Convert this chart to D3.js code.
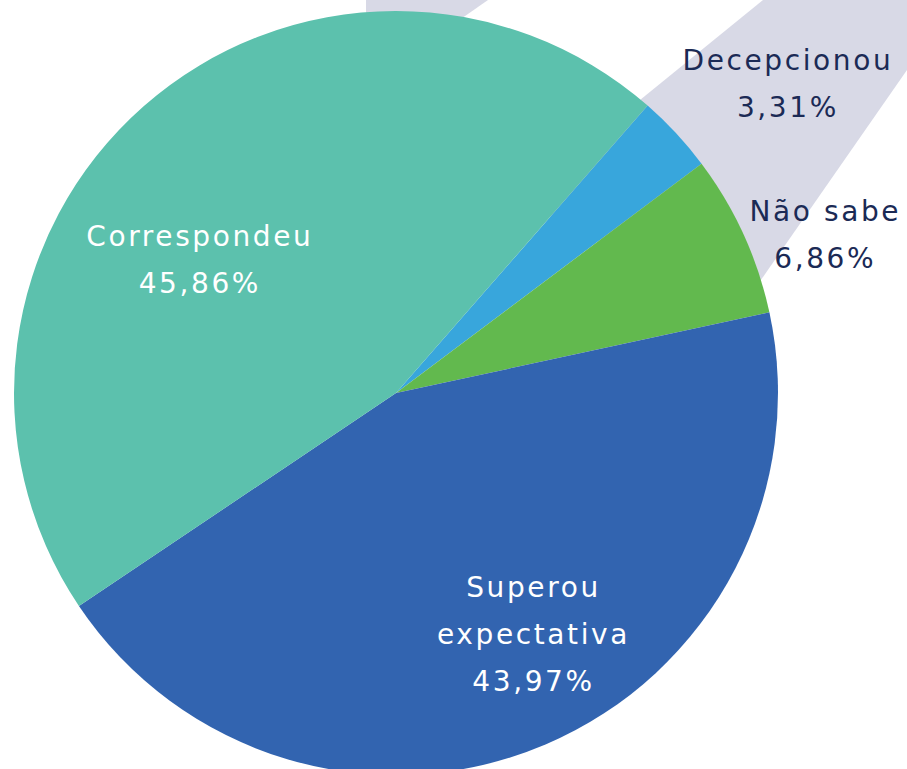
<!DOCTYPE html>
<html>
<head>
<meta charset="utf-8">
<script src="https://cdn.jsdelivr.net/npm/d3@7/dist/d3.min.js"></script>
<style>
  html, body { margin: 0; padding: 0; background: #ffffff; }
  svg { display: block; }
  text { font-family: "DejaVu Sans", "Open Sans", sans-serif; }
</style>
</head>
<body>
<svg id="chart" width="907" height="769"></svg>
<script>
// ---- data ----
const categories = ["Decepcionou", "Não sabe", "Superou expectativa", "Correspondeu"];
const values = [3.31, 6.86, 43.97, 45.86];
const valueLabels = ["3,31%", "6,86%", "43,97%", "45,86%"];
const labelLines = [["Decepcionou"], ["Não sabe"], ["Superou", "expectativa"], ["Correspondeu"]];
const colors = ["#38a6dc", "#62b94e", "#3264b0", "#5cc1ad"];

// ---- layout ----
const W = 907, H = 769;
const cx = 396, cy = 393, R = 382;
const startDeg = 41.2;
// label placement: radius and angle offset (degrees) from slice middle
const labelPlace = [
  { r: 492, dAng: 5.4, inside: false },
  { r: 453, dAng: 5.4, inside: false },
  { r: 286, dAng: -5.4, inside: true },
  { r: 233, dAng: -16.6, inside: true }
];
const fontSize = 28, lineH = 47, letterSp = 2.6;

const svg = d3.select("#chart");

// decorative lavender background shapes
const bg = svg.append("g").attr("fill", "#d8d9e6");
bg.append("path").attr("d", "M763,0 L907,0 L907,70 L740,310 L517,200 Z");
bg.append("path").attr("d", "M366,0 L488,0 L445,30 L366,30 Z");

const pie = d3.pie()
  .sort(null)
  .value(d => d)
  .startAngle(startDeg * Math.PI / 180)
  .endAngle((startDeg + 360) * Math.PI / 180);

const arcs = pie(values);
const arc = d3.arc().innerRadius(0).outerRadius(R);

const g = svg.append("g").attr("transform", `translate(${cx},${cy})`);

g.selectAll("path.slice")
  .data(arcs)
  .join("path")
  .attr("class", "slice")
  .attr("d", arc)
  .attr("fill", (d, i) => colors[i]);

// labels
const lg = g.append("g");
arcs.forEach((d, i) => {
  const p = labelPlace[i];
  const mid = (d.startAngle + d.endAngle) / 2 + p.dAng * Math.PI / 180;
  const x = p.r * Math.sin(mid) + letterSp / 2;
  const y = -p.r * Math.cos(mid);
  const lines = labelLines[i].concat([valueLabels[i]]);
  const n = lines.length;
  const t = lg.append("text")
    .attr("text-anchor", "middle")
    .attr("fill", p.inside ? "#ffffff" : "#1b2a55")
    .attr("font-size", fontSize)
    .attr("letter-spacing", letterSp);
  lines.forEach((ln, k) => {
    t.append("tspan")
      .attr("x", x)
      .attr("y", y + (k - (n - 1) / 2) * lineH)
      .text(ln);
  });
});
</script>
</body>
</html>
